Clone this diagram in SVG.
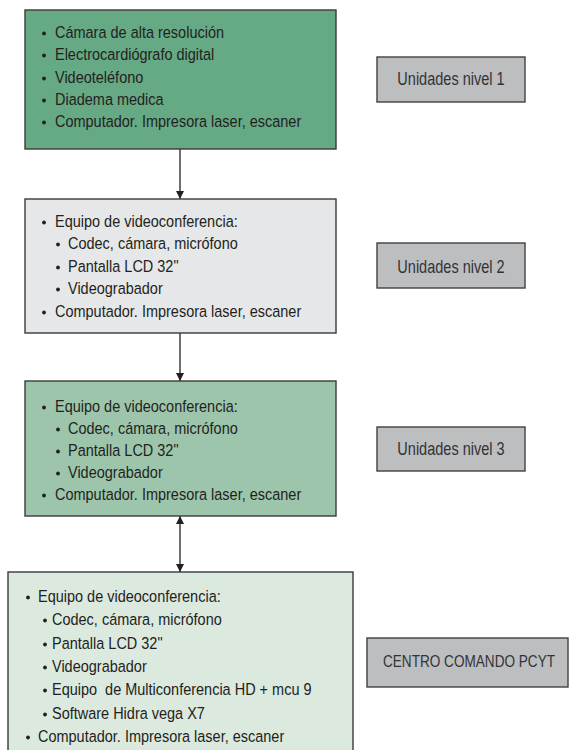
<svg xmlns="http://www.w3.org/2000/svg" width="569" height="750" viewBox="0 0 569 750">
<style>
.box{stroke:#3a3a3c;stroke-width:1.4}
.side{fill:#bcbec0;stroke:#414042;stroke-width:1.4}
.t{font-family:"Liberation Sans",Arial,sans-serif;font-size:16.5px;fill:#231f20}
.s{font-family:"Liberation Sans",Arial,sans-serif;font-size:17.5px;fill:#333335;text-anchor:middle}
.b{fill:#231f20}
.c{stroke:#231f20;stroke-width:1.3;fill:none}
</style>
<defs>
<marker id="ah" viewBox="0 0 10 10" refX="10" refY="5" markerWidth="8" markerHeight="8" markerUnits="userSpaceOnUse" orient="auto-start-reverse">
<path d="M0,0 L10,5 L0,10 z" fill="#231f20"/>
</marker>
</defs>
<g id="connectors">
<line class="c" x1="180" y1="149" x2="180" y2="199" marker-end="url(#ah)"/>
<line class="c" x1="180" y1="333" x2="180" y2="381" marker-end="url(#ah)"/>
<line class="c" x1="180" y1="516" x2="180" y2="572" marker-start="url(#ah)" marker-end="url(#ah)"/>
</g>
<g id="box1">
<rect class="box" x="25" y="10" width="311" height="139" fill="#66a985"/>
<circle class="b" cx="44" cy="33.5" r="1.9"/><text class="t" transform="translate(55,38) scale(0.878,1)">Cámara de alta resolución</text>
<circle class="b" cx="44" cy="55.5" r="1.9"/><text class="t" transform="translate(55,60) scale(0.878,1)">Electrocardiógrafo digital</text>
<circle class="b" cx="44" cy="78.5" r="1.9"/><text class="t" transform="translate(55,83) scale(0.878,1)">Videoteléfono</text>
<circle class="b" cx="44" cy="100.5" r="1.9"/><text class="t" transform="translate(55,105) scale(0.878,1)">Diadema medica</text>
<circle class="b" cx="44" cy="122.5" r="1.9"/><text class="t" transform="translate(55,127) scale(0.878,1)">Computador. Impresora laser, escaner</text>
</g>
<g id="box2">
<rect class="box" x="25" y="199" width="311" height="134" fill="#e6e7e8"/>
<circle class="b" cx="44" cy="222.5" r="1.9"/><text class="t" transform="translate(55,227) scale(0.878,1)">Equipo de videoconferencia:</text>
<circle class="b" cx="58" cy="244.5" r="1.9"/><text class="t" transform="translate(68,249) scale(0.878,1)">Codec, cámara, micrófono</text>
<circle class="b" cx="58" cy="267.5" r="1.9"/><text class="t" transform="translate(68,272) scale(0.878,1)">Pantalla LCD 32"</text>
<circle class="b" cx="58" cy="289.5" r="1.9"/><text class="t" transform="translate(68,294) scale(0.878,1)">Videograbador</text>
<circle class="b" cx="44" cy="312.5" r="1.9"/><text class="t" transform="translate(55,317) scale(0.878,1)">Computador. Impresora laser, escaner</text>
</g>
<g id="box3">
<rect class="box" x="25" y="381" width="311" height="135" fill="#9dc5ab"/>
<circle class="b" cx="44" cy="407.5" r="1.9"/><text class="t" transform="translate(55,412) scale(0.878,1)">Equipo de videoconferencia:</text>
<circle class="b" cx="58" cy="429.5" r="1.9"/><text class="t" transform="translate(68,434) scale(0.878,1)">Codec, cámara, micrófono</text>
<circle class="b" cx="58" cy="451.5" r="1.9"/><text class="t" transform="translate(68,456) scale(0.878,1)">Pantalla LCD 32"</text>
<circle class="b" cx="58" cy="473.5" r="1.9"/><text class="t" transform="translate(68,478) scale(0.878,1)">Videograbador</text>
<circle class="b" cx="44" cy="495.5" r="1.9"/><text class="t" transform="translate(55,500) scale(0.878,1)">Computador. Impresora laser, escaner</text>
</g>
<g id="box4">
<rect class="box" x="8" y="572" width="345" height="190" fill="#dbe9df"/>
<circle class="b" cx="28" cy="597.5" r="1.9"/><text class="t" transform="translate(38,602) scale(0.878,1)">Equipo de videoconferencia:</text>
<circle class="b" cx="45" cy="620.5" r="1.9"/><text class="t" transform="translate(52,625) scale(0.878,1)">Codec, cámara, micrófono</text>
<circle class="b" cx="45" cy="644.5" r="1.9"/><text class="t" transform="translate(52,649) scale(0.878,1)">Pantalla LCD 32"</text>
<circle class="b" cx="45" cy="667.5" r="1.9"/><text class="t" transform="translate(52,672) scale(0.878,1)">Videograbador</text>
<circle class="b" cx="45" cy="690.5" r="1.9"/><text class="t" transform="translate(52,695) scale(0.878,1)" xml:space="preserve">Equipo  de Multiconferencia HD + mcu 9</text>
<circle class="b" cx="45" cy="714.5" r="1.9"/><text class="t" transform="translate(52,719) scale(0.878,1)">Software Hidra vega X7</text>
<circle class="b" cx="28" cy="737.5" r="1.9"/><text class="t" transform="translate(38,742) scale(0.878,1)">Computador. Impresora laser, escaner</text>
</g>
<g id="nivel1">
<rect class="side" x="377" y="57" width="148" height="45"/>
<text class="s" transform="translate(451,85) scale(0.83,1)">Unidades nivel 1</text>
</g>
<g id="nivel2">
<rect class="side" x="377" y="243" width="148" height="45"/>
<text class="s" transform="translate(451,273) scale(0.83,1)">Unidades nivel 2</text>
</g>
<g id="nivel3">
<rect class="side" x="377" y="427" width="148" height="44"/>
<text class="s" transform="translate(451,455) scale(0.83,1)">Unidades nivel 3</text>
</g>
<g id="centro">
<rect class="side" x="367" y="638" width="201" height="49"/>
<text class="s" transform="translate(469,667) scale(0.8,1)" style="font-size:17px">CENTRO COMANDO PCYT</text>
</g>
</svg>
